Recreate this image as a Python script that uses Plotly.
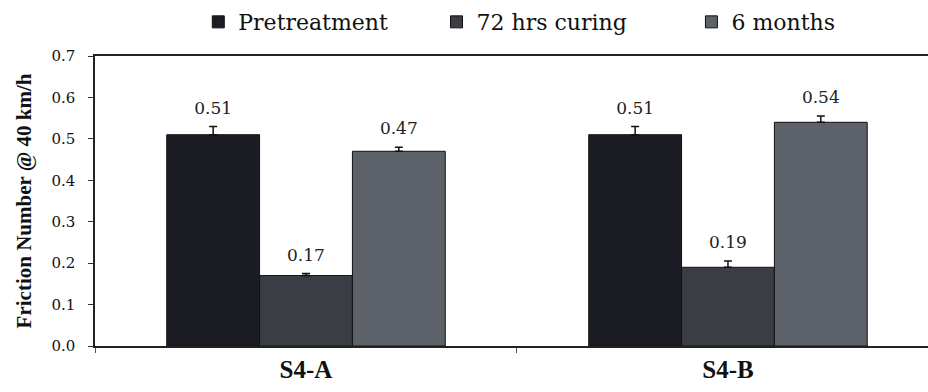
import plotly.graph_objects as go

# Friction number at 40 km/h for two sections over three measurement stages
sections = ["S4-A", "S4-B"]
stages = ["Pretreatment", "72 hrs curing", "6 months"]
friction = {
    "Pretreatment": [0.51, 0.51],
    "72 hrs curing": [0.17, 0.19],
    "6 months": [0.47, 0.54],
}
spread = {
    "Pretreatment": [0.02, 0.02],
    "72 hrs curing": [0.005, 0.015],
    "6 months": [0.01, 0.015],
}
y_ticks = [0.0, 0.1, 0.2, 0.3, 0.4, 0.5, 0.6, 0.7]

colors = {
    "Pretreatment": "#1c1c24",
    "72 hrs curing": "#3a3d44",
    "6 months": "#5d6169",
}
# each stage gets its own legend box, laid out along the top
legend_ids = {"Pretreatment": "legend", "72 hrs curing": "legend2", "6 months": "legend3"}
legend_x = {"legend": 0.124, "legend2": 0.41, "legend3": 0.716}

serif = "DejaVu Serif"
serif_bold = "Liberation Serif"

fig = go.Figure()
for stage in stages:
    fig.add_trace(go.Bar(
        name=stage,
        x=sections,
        y=friction[stage],
        offsetgroup=stage,
        legend=legend_ids[stage],
        marker=dict(color=colors[stage], line=dict(color="#111111", width=1)),
        error_y=dict(type="data", array=spread[stage], symmetric=False,
                     arrayminus=[0] * len(sections),
                     color="#111111", thickness=1.5, width=4),
    ))

# value labels sit just above each error bar
for stage in stages:
    tops = [v + e for v, e in zip(friction[stage], spread[stage])]
    fig.add_trace(go.Scatter(
        x=sections,
        y=tops,
        offsetgroup=stage,
        mode="markers+text",
        marker=dict(size=12, opacity=0),
        text=[f"{v:.2f}" for v in friction[stage]],
        textposition="top center",
        textfont=dict(family=serif, size=17, color="#222222"),
        showlegend=False,
        hoverinfo="skip",
    ))


def legend_box(key):
    return dict(
        orientation="h",
        xanchor="left",
        x=legend_x[key],
        y=1.117, yanchor="middle",
        font=dict(family=serif, size=22, color="#111111"),
        itemwidth=30,
        bgcolor="rgba(0,0,0,0)",
    )


fig.update_layout(
    width=928,
    height=392,
    margin=dict(l=95, r=0, t=56, b=46),
    paper_bgcolor="white",
    plot_bgcolor="white",
    barmode="group",
    scattermode="group",
    bargap=0.34,
    bargroupgap=0,
    scattergap=0.34,
    font=dict(family=serif, color="#111111"),
    legend=legend_box("legend"),
    legend2=legend_box("legend2"),
    legend3=legend_box("legend3"),
    showlegend=True,
)

fig.update_xaxes(
    type="category",
    range=[-0.5, 1.474],
    showline=True, linecolor="#222222", linewidth=1.5, mirror=True,
    ticks="outside", tickson="boundaries", ticklen=5, tickcolor="#555555",
    tickfont=dict(family=serif_bold, size=25, color="#111111", weight="bold"),
    showgrid=False,
)
fig.update_yaxes(
    range=[0, 0.7],
    tickvals=y_ticks,
    tickformat=".1f",
    showline=True, linecolor="#222222", linewidth=1.5,
    ticks="outside", ticklen=5, tickcolor="#333333",
    ticklabelstandoff=10,
    tickfont=dict(family=serif, size=15, color="#111111"),
    showgrid=False, zeroline=False,
    title=dict(text="<b>Friction Number @ 40 km/h</b>", standoff=14,
               font=dict(family=serif_bold, size=21, color="#111111")),
)

fig.write_html("out.html")
